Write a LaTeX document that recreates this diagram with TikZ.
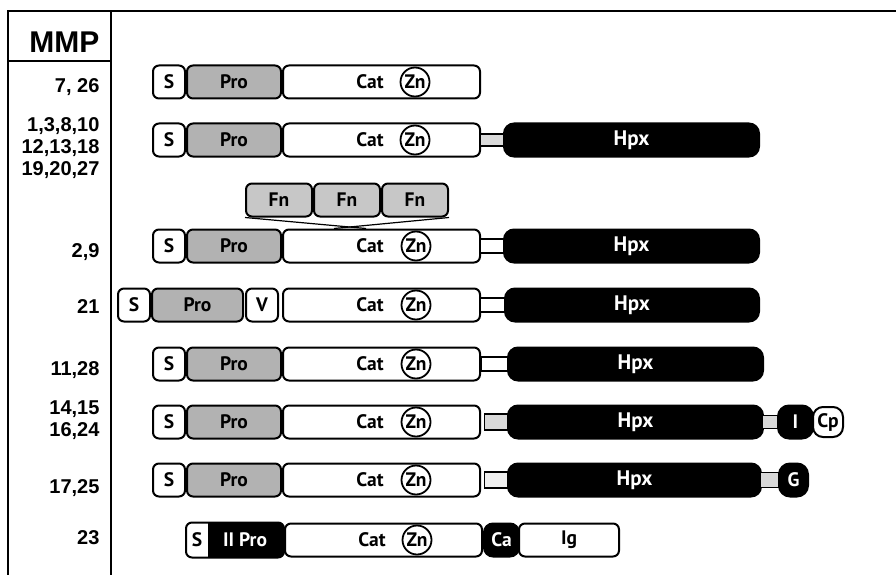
\documentclass[tikz,border=0pt]{standalone}
\usepackage{fontspec}
\setmainfont{PT Sans}
\newfontfamily\labfont{Liberation Sans}
\newcommand\domfont{\fontsize{19.5}{21}\selectfont\bfseries}
\newcommand\hpxfont{\fontsize{21}{23}\selectfont\bfseries}
\begin{document}
\begin{tikzpicture}[x=1pt,y=-1pt,
  frame/.style={line width=1.6pt},
  dom/.style={draw, line width=2pt, rounded corners=6pt, minimum height=33pt,
              inner sep=0pt, anchor=west, font=\domfont},
  sig/.style={dom, fill=white, minimum width=32pt},
  pro/.style={dom, fill=black!30},
  cat/.style={dom, fill=white, minimum width=197pt},
  fn/.style={dom, fill=black!22, minimum width=66pt},
  hpx/.style={dom, fill=black, text=white, rounded corners=10pt},
  lnk/.style={draw, line width=1.4pt, inner sep=0pt, anchor=west, minimum height=14pt},
  zn/.style={circle, draw, line width=1.8pt, minimum size=29pt, inner sep=0pt, font=\domfont},
  lbl/.style={font=\domfont},
  num/.style={anchor=east, align=right, font=\labfont\bfseries\fontsize{20}{22}\selectfont},
  conn/.style={line width=1.2pt}
]
\useasboundingbox (0,0) rectangle (896,575);

% table frame
\draw[frame] (8,575) -- (8,11) -- (896,11);
\draw[frame] (111,11) -- (111,575);
\draw[frame] (8,61) -- (111,61);
\node[anchor=east, font=\labfont\bfseries\fontsize{30}{32}\selectfont] (head) at (103,42) {MMP};

% MMP numbers
\node[num] (n1) at (103,87) {7, 26};
\node[num] (n2) at (103,148) {1,3,8,10\\12,13,18\\19,20,27};
\node[num] (n3) at (103,252) {2,9};
\node[num] (n4) at (103,307) {21};
\node[num] (n5) at (103,370) {11,28};
\node[num] (n6) at (103,420) {14,15\\16,24};
\node[num] (n7) at (103,488) {17,25};
\node[num] (n8) at (103,538) {23};

% MMP-7, 26
\node[sig] (s1) at (152,82) {S};
\node[pro, minimum width=94pt] (p1) at (186,82) {Pro};
\node[cat] (c1) at (282,82) {};
\node[lbl] (t1) at (370,82) {Cat};
\node[zn] (z1) at (415,82) {Zn};

% MMP-1,3,8,...
\node[sig] (s2) at (152,140) {S};
\node[pro, minimum width=94pt] (p2) at (186,140) {Pro};
\node[cat] (c2) at (282,140) {};
\node[lbl] (t2) at (370,140) {Cat};
\node[zn] (z2) at (415,140) {Zn};
\node[lnk, fill=black!15, minimum width=23pt, minimum height=12pt] (l2) at (480,140) {};
\node[hpx, minimum width=255pt, font=\hpxfont] (h2) at (503,140) {Hpx};

% fibronectin inserts
\node[fn] (f1) at (245,200) {Fn};
\node[fn] (f2) at (313,200) {Fn};
\node[fn] (f3) at (381,200) {Fn};

% MMP-2,9
\node[sig] (s3) at (152,246) {S};
\node[pro, minimum width=94pt] (p3) at (186,246) {Pro};
\node[cat] (c3) at (282,246) {};
\node[lbl] (t3) at (370,246) {Cat};
\node[zn] (z3) at (416,246) {Zn};
\node[lnk, fill=white, minimum width=23pt] (l3) at (480,246) {};
\node[hpx, minimum width=255pt, font=\hpxfont] (h3) at (503,246) {Hpx};
\coordinate (ins1) at ([xshift=52pt]c3.north west);
\coordinate (ins2) at ([xshift=84pt]c3.north west);
\draw[conn] (f1.south west) -- (ins2);
\draw[conn] (f3.south east) -- (ins1);

% MMP-21
\node[sig] (s4) at (117,305) {S};
\node[pro, minimum width=91pt] (p4) at (151,305) {Pro};
\node[sig] (v4) at (245,305) {V};
\node[cat] (c4) at (282,305) {};
\node[lbl] (t4) at (370,305) {Cat};
\node[zn] (z4) at (416,305) {Zn};
\node[lnk, fill=white, minimum width=24pt] (l4) at (480,305) {};
\node[hpx, minimum width=254pt, font=\hpxfont] (h4) at (504,305) {Hpx};

% MMP-11,28
\node[sig] (s5) at (152,364) {S};
\node[pro, minimum width=94pt] (p5) at (186,364) {Pro};
\node[cat] (c5) at (282,364) {};
\node[lbl] (t5) at (370,364) {Cat};
\node[zn] (z5) at (416,364) {Zn};
\node[lnk, fill=white, minimum width=26pt] (l5) at (481,364) {};
\node[hpx, minimum width=255pt, font=\hpxfont] (h5) at (507,364) {Hpx};

% MMP-14,15,16,24
\node[sig] (s6) at (152,422) {S};
\node[pro, minimum width=94pt] (p6) at (186,422) {Pro};
\node[cat] (c6) at (282,422) {};
\node[lbl] (t6) at (370,422) {Cat};
\node[zn] (z6) at (416,422) {Zn};
\node[lnk, fill=black!15, minimum width=23pt, minimum height=16pt] (l6) at (484,422) {};
\node[hpx, minimum width=255pt, font=\hpxfont] (h6) at (507,422) {Hpx};
\node[lnk, fill=black!15, minimum width=15pt, minimum height=13pt] (m6) at (762,422) {};
\node[hpx, minimum width=35pt, rounded corners=11pt] (i6) at (777,422) {I};
\node[dom, fill=white, minimum width=30pt, minimum height=30pt, rounded corners=10pt] (cp6) at (812,422) {Cp};

% MMP-17,25
\node[sig] (s7) at (152,480) {S};
\node[pro, minimum width=94pt] (p7) at (186,480) {Pro};
\node[cat] (c7) at (282,480) {};
\node[lbl] (t7) at (370,480) {Cat};
\node[zn] (z7) at (416,480) {Zn};
\node[lnk, fill=black!6, minimum width=23pt, minimum height=16pt] (l7) at (484,480) {};
\node[hpx, minimum width=253pt, font=\hpxfont] (h7) at (507,480) {Hpx};
\node[lnk, fill=black!15, minimum width=18pt, minimum height=15pt] (m7) at (760,480) {};
\node[hpx, minimum width=29pt, rounded corners=11pt] (g7) at (778,480) {G};

% MMP-23
\node[dom, fill=black, minimum width=96pt] (p8) at (186,540) {};
\begin{scope}
  \clip[rounded corners=6pt] (p8.north west) rectangle (p8.south east);
  \fill[white] (p8.north west) rectangle ([xshift=22pt]p8.south west);
\end{scope}
\draw[line width=2pt, rounded corners=6pt] (p8.north west) rectangle (p8.south east);
\node[lbl] (s8) at (197,540) {S};
\node[lbl, text=white] (ii8) at (245,540) {II Pro};
\node[cat] (c8) at (284,540) {};
\node[lbl] (t8) at (372,540) {Cat};
\node[zn] (z8) at (417,540) {Zn};
\node[hpx, minimum width=35pt, rounded corners=9pt] (ca8) at (483,540) {Ca};
\node[dom, fill=white, minimum width=100pt] (ig8) at (518,540) {Ig};
\end{tikzpicture}
\end{document}
